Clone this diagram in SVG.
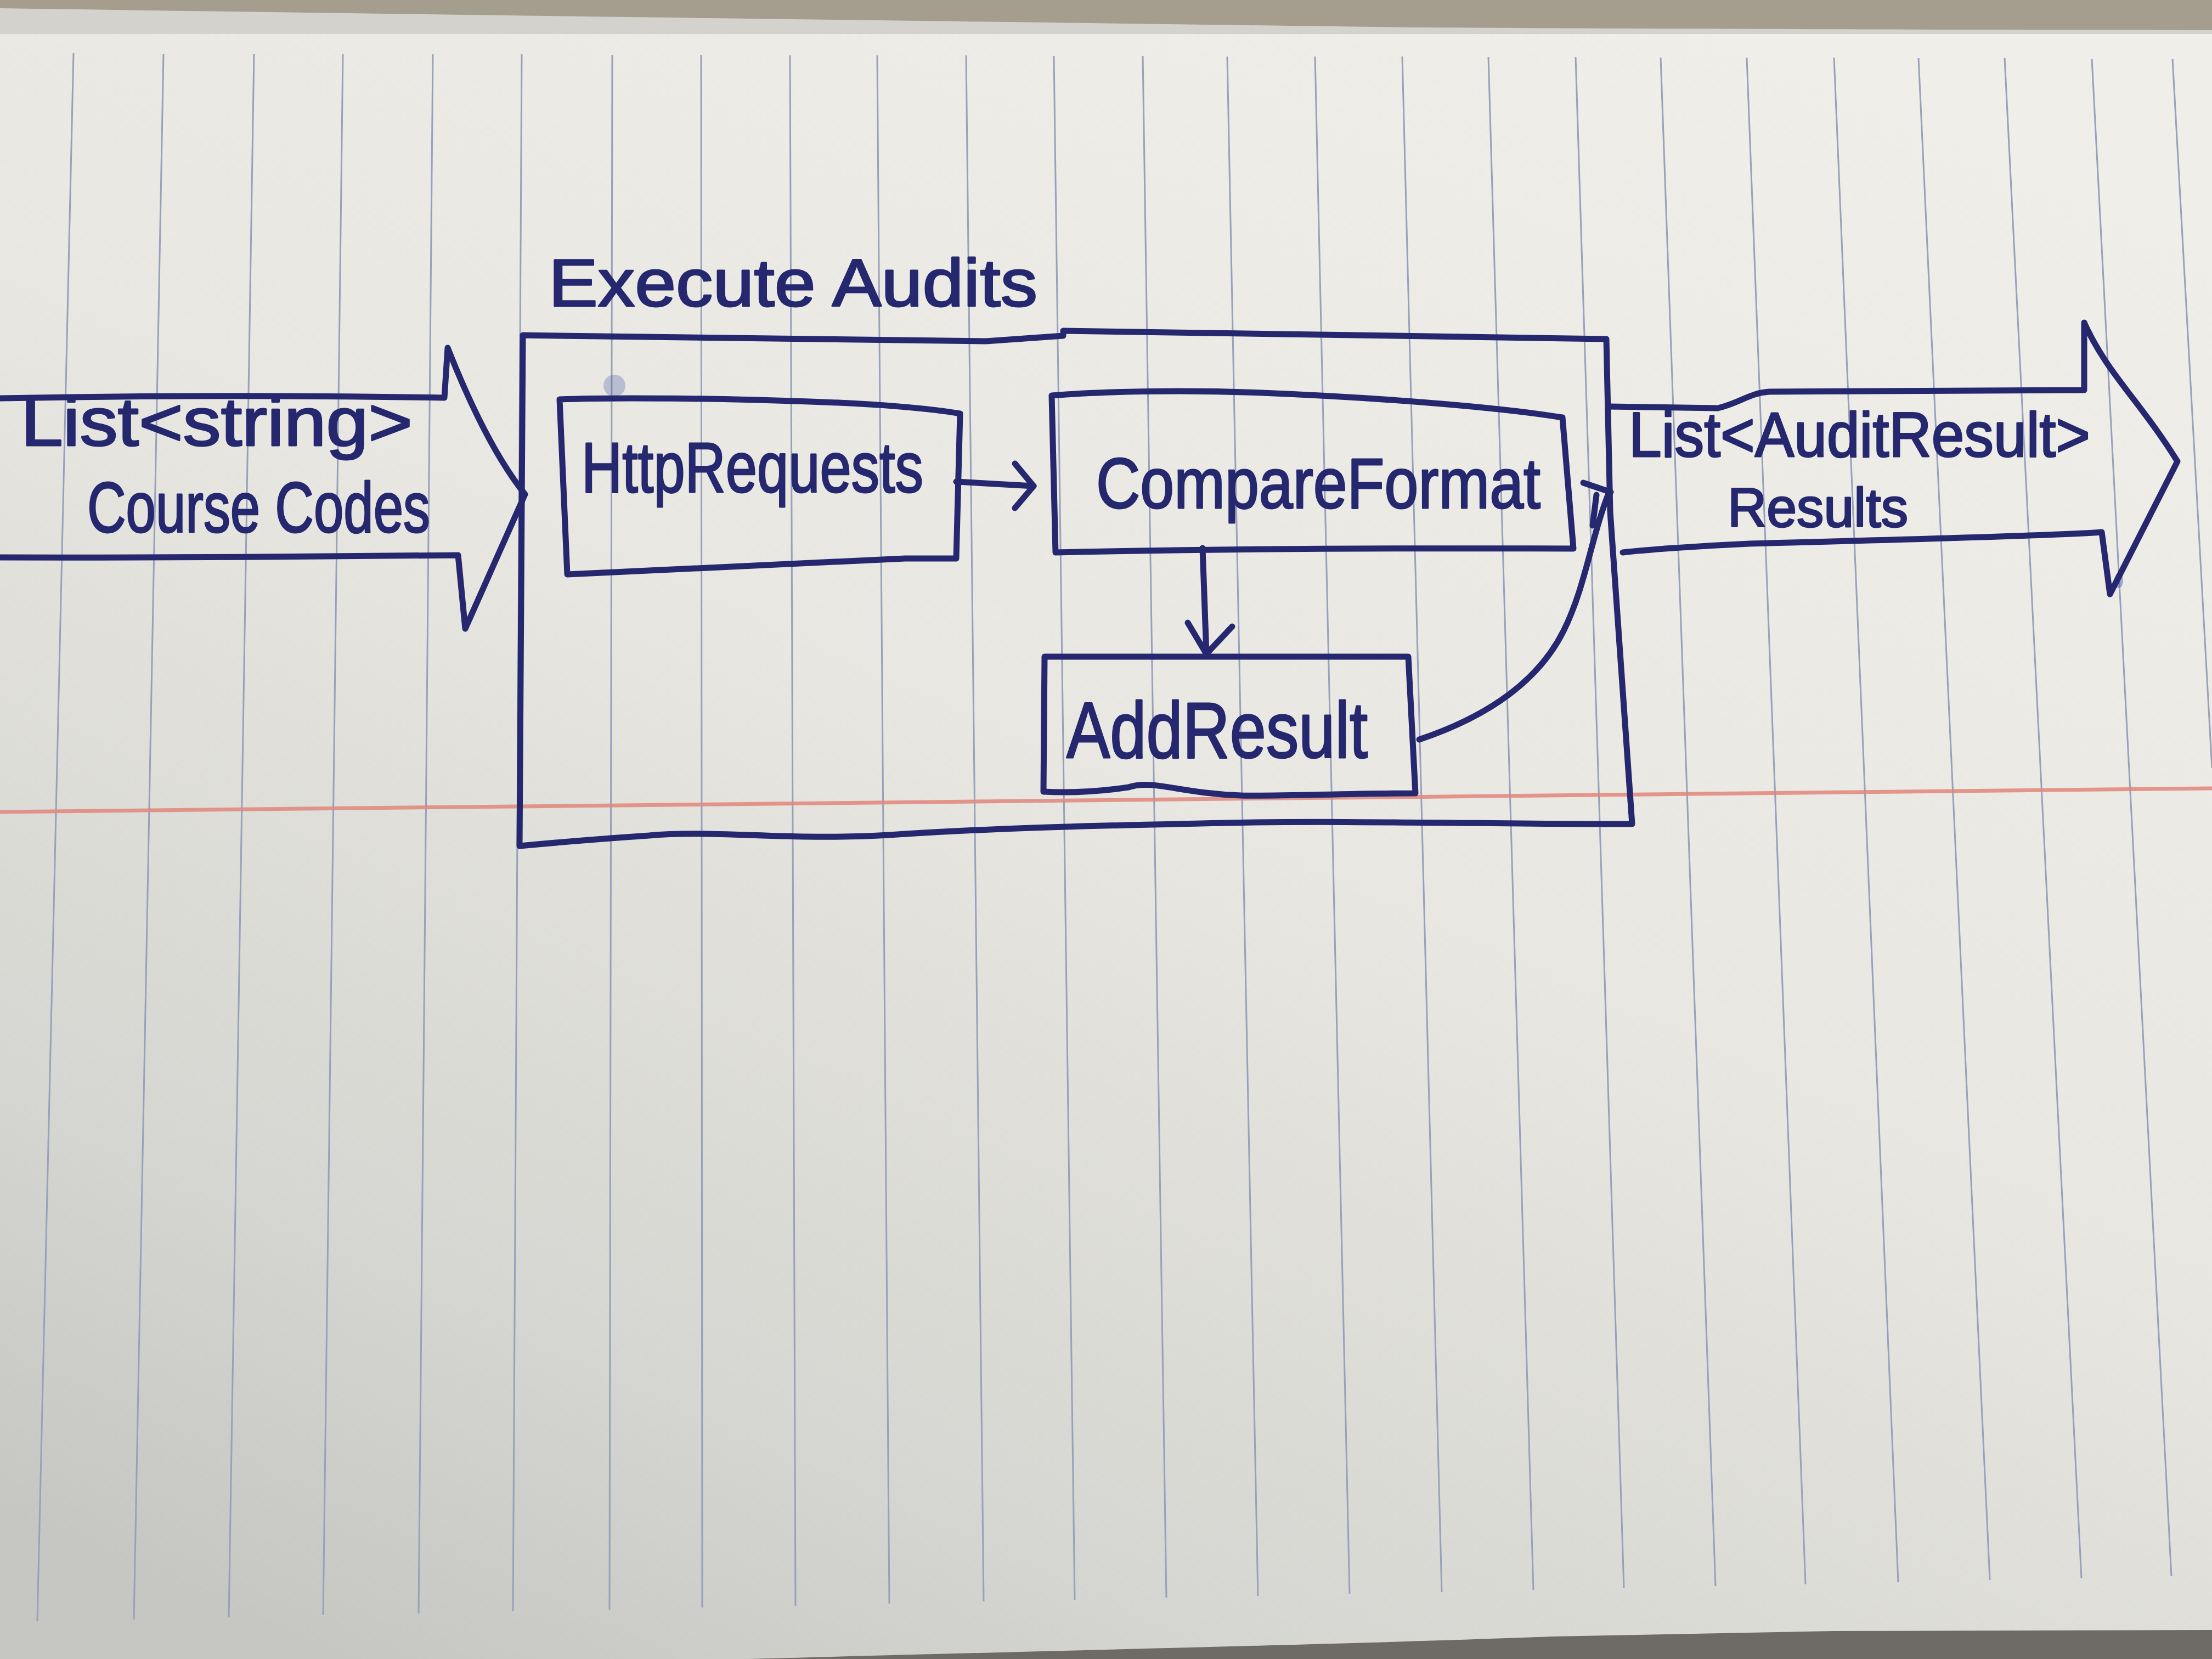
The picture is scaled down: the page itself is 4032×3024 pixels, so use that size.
<svg xmlns="http://www.w3.org/2000/svg" width="4032" height="3024" viewBox="0 0 4032 3024">
  <defs>
    <linearGradient id="paper" x1="0.75" y1="0" x2="0.15" y2="1">
      <stop offset="0" stop-color="#efeee8"/>
      <stop offset="0.45" stop-color="#e8e7e1"/>
      <stop offset="0.8" stop-color="#d6d6d2"/>
      <stop offset="1" stop-color="#c6c6c3"/>
    </linearGradient>
    <style>
      .rule { stroke:#99a0bb; stroke-width:3; fill:none; }
      .ink { fill:none; stroke:#25286f; stroke-width:11; stroke-linecap:round; stroke-linejoin:round; }
      .hw { font-family:"Liberation Sans", Arial, sans-serif; fill:#25286f; stroke:#25286f; stroke-width:3; stroke-linejoin:round; }
    </style>
  </defs>

  <!-- background: paper, carpet -->
  <rect x="0" y="0" width="4032" height="3024" fill="url(#paper)"/>
  <rect x="0" y="0" width="4032" height="62" fill="#d4d2cd"/>
  <path d="M0,0 L4032,0 L4032,55 C3400,54 2900,52 2571,50 C2000,42 1029,30 0,15 Z" fill="#a59d8e"/>
  <path d="M1363,3024 C1800,3012 2500,2996 2829,2983 L3343,2973 L4032,2971 L4032,3024 Z" fill="#6e6b66"/>

  <!-- ruled lines -->
  <g id="ruling">
    <line class="rule" x1="134" y1="97" x2="68" y2="2955"/>
    <line class="rule" x1="298" y1="98" x2="244" y2="2952"/>
    <line class="rule" x1="463" y1="98" x2="417" y2="2948"/>
    <line class="rule" x1="625" y1="99" x2="589" y2="2944"/>
    <line class="rule" x1="789" y1="99" x2="763" y2="2941"/>
    <line class="rule" x1="951" y1="99" x2="935" y2="2937"/>
    <line class="rule" x1="1116" y1="100" x2="1111" y2="2934"/>
    <line class="rule" x1="1278" y1="100" x2="1280" y2="2930"/>
    <line class="rule" x1="1440" y1="101" x2="1450" y2="2927"/>
    <line class="rule" x1="1599" y1="101" x2="1621" y2="2923"/>
    <line class="rule" x1="1761" y1="101" x2="1793" y2="2919"/>
    <line class="rule" x1="1921" y1="102" x2="1959" y2="2916"/>
    <line class="rule" x1="2083" y1="102" x2="2126" y2="2912"/>
    <line class="rule" x1="2237" y1="103" x2="2293" y2="2909"/>
    <line class="rule" x1="2397" y1="103" x2="2460" y2="2905"/>
    <line class="rule" x1="2556" y1="103" x2="2628" y2="2902"/>
    <line class="rule" x1="2713" y1="104" x2="2795" y2="2898"/>
    <line class="rule" x1="2872" y1="104" x2="2960" y2="2895"/>
    <line class="rule" x1="3027" y1="105" x2="3127" y2="2891"/>
    <line class="rule" x1="3184" y1="105" x2="3291" y2="2888"/>
    <line class="rule" x1="3343" y1="105" x2="3460" y2="2884"/>
    <line class="rule" x1="3497" y1="106" x2="3627" y2="2880"/>
    <line class="rule" x1="3654" y1="106" x2="3794" y2="2877"/>
    <line class="rule" x1="3813" y1="107" x2="3958" y2="2873"/>
    <line class="rule" x1="3960" y1="107" x2="4032" y2="1400"/>
    <line x1="0" y1="1480" x2="4032" y2="1437" stroke="#e2877d" stroke-width="7" opacity="0.85"/>
  </g>

  <!-- ink blots -->
  <circle cx="1120" cy="703" r="20" fill="#4a5aa8" opacity="0.3"/>
  <ellipse cx="3862" cy="1058" rx="8" ry="14" fill="#3d5bb0" opacity="0.45"/>

  <!-- input arrow -->
  <g id="node-input">
    <path class="ink" d="M0,726 C200,722 450,719 810,725 L816,634 C850,720 900,830 957,901 L848,1146 L835,1012 C700,1013 400,1017 0,1016"/>
    <text class="hw" x="38" y="812" font-size="125" textLength="714" lengthAdjust="spacingAndGlyphs">List&lt;string&gt;</text>
    <text class="hw" x="159" y="970" font-size="130" textLength="625" lengthAdjust="spacingAndGlyphs">Course Codes</text>
  </g>

  <!-- Execute Audits container -->
  <g id="node-execute-audits">
    <text class="hw" x="1000" y="558" font-size="122" textLength="891" lengthAdjust="spacingAndGlyphs">Execute Audits</text>
    <path class="ink" d="M953,611 C1150,616 1342,618 1797,622 L1938,612 L1938,603 C2200,606 2600,613 2928,618 L2935,933 L2975,1502 C2777,1503 2442,1495 2237,1500 C1950,1506 1800,1510 1620,1522 C1440,1533 1300,1512 1183,1523 C1080,1530 1000,1537 947,1542 Z"/>
  </g>

  <!-- HttpRequests -->
  <g id="node-httprequests">
    <path class="ink" d="M1020,728 C1120,724 1300,726 1476,732 C1600,736 1700,745 1750,754 L1743,1018 L1650,1018 L1034,1047 Z"/>
    <text class="hw" x="1060" y="897" font-size="130" textLength="623" lengthAdjust="spacingAndGlyphs">HttpRequests</text>
  </g>

  <!-- CompareFormat -->
  <g id="node-compareformat">
    <path class="ink" d="M1917,721 C2000,714 2145,710 2300,716 C2547,726 2750,745 2848,761 L2868,1000 C2600,999 2279,999 1924,1007 Z"/>
    <text class="hw" x="1998" y="926" font-size="130" textLength="810" lengthAdjust="spacingAndGlyphs">CompareFormat</text>
  </g>

  <!-- AddResult -->
  <g id="node-addresult">
    <path class="ink" d="M1904,1197 L2567,1197 L2580,1446 C2450,1446 2330,1452 2262,1450 C2150,1446 2100,1420 2057,1435 C1990,1445 1940,1445 1902,1443 Z"/>
    <text class="hw" x="1944" y="1381" font-size="145" textLength="549" lengthAdjust="spacingAndGlyphs">AddResult</text>
  </g>

  <!-- output arrow -->
  <g id="node-output">
    <path class="ink" d="M2932,741 L3131,744 C3170,735 3190,716 3225,714 L3799,711 L3799,588 C3840,680 3900,730 3969,841 L3846,1083 L3831,970 C3745,977 3300,988 3189,991 C3100,995 3000,1002 2958,1007"/>
    <text class="hw" x="2969" y="832" font-size="115" textLength="841" lengthAdjust="spacingAndGlyphs">List&lt;AuditResult&gt;</text>
    <text class="hw" x="3149" y="960" font-size="100" textLength="329" lengthAdjust="spacingAndGlyphs">Results</text>
  </g>

  <!-- connectors -->
  <g id="connectors">
    <path class="ink" d="M1743,878 L1884,886"/>
    <path class="ink" d="M1850,845 L1884,886 L1850,926"/>
    <path class="ink" d="M2192,999 L2199,1192"/>
    <path class="ink" d="M2165,1135 L2199,1192 L2246,1142"/>
    <path class="ink" d="M2587,1348 C2700,1310 2800,1250 2850,1150 C2890,1070 2900,980 2933,897"/>
    <path class="ink" d="M2886,880 L2936,897" stroke-width="16"/>
    <path class="ink" d="M2910,902 L2903,958" stroke-width="16"/>
  </g>
</svg>
